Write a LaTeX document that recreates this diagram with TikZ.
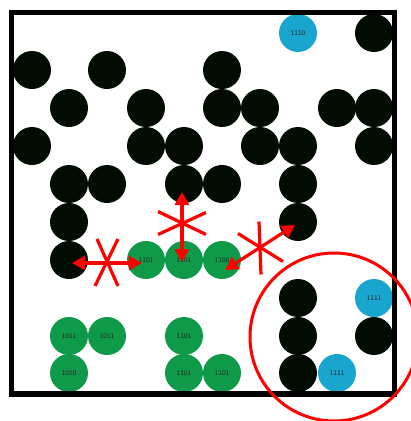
\documentclass[tikz,border=0pt]{standalone}
\usetikzlibrary{arrows.meta}
\definecolor{dotblack}{RGB}{2,12,2}
\definecolor{dotgreen}{RGB}{14,154,72}
\definecolor{dotcyan}{RGB}{24,166,206}
\begin{document}
\begin{tikzpicture}[x=1pt,y=-1pt,
  dot/.style={circle,minimum size=38pt,inner sep=0pt,font=\fontsize{7}{8}\selectfont\sffamily,text=black!85},
  bk/.style={dot,fill=dotblack},
  gr/.style={dot,fill=dotgreen},
  cy/.style={dot,fill=dotcyan},
  redarrow/.style={draw=red,line width=3.2pt,{Triangle[length=13pt,width=14pt]}-{Triangle[length=13pt,width=14pt]}},
  xmark/.style={draw=red,line width=3.2pt},
  frame/.style={draw=black,line width=5.5pt}]
\useasboundingbox (0,0) rectangle (411,421);
% row 1
\node[cy] (c1) at (298,33) {1110};
\node[bk] (k1a) at (374,33) {};
% row 2
\node[bk] (k2a) at (32,70) {};
\node[bk] (k2b) at (107,70) {};
\node[bk] (k2c) at (222,70) {};
% row 3
\node[bk] (k3a) at (69,108) {};
\node[bk] (k3b) at (146,108) {};
\node[bk] (k3c) at (222,108) {};
\node[bk] (k3d) at (260,108) {};
\node[bk] (k3e) at (337,108) {};
\node[bk] (k3f) at (374,108) {};
% row 4
\node[bk] (k4a) at (32,146) {};
\node[bk] (k4b) at (146,146) {};
\node[bk] (k4c) at (184,146) {};
\node[bk] (k4d) at (260,146) {};
\node[bk] (k4e) at (298,146) {};
\node[bk] (k4f) at (374,146) {};
% row 5
\node[bk] (k5a) at (69,184) {};
\node[bk] (k5b) at (107,184) {};
\node[bk] (k5c) at (184,184) {};
\node[bk] (k5d) at (222,184) {};
\node[bk] (k5e) at (298,184) {};
% row 6
\node[bk] (k6a) at (69,222) {};
\node[bk] (k6b) at (298,222) {};
% row 7
\node[bk] (k7a) at (69,260) {};
\node[gr] (g7a) at (146,260) {1101};
\node[gr] (g7b) at (184,260) {1101};
\node[gr] (g7c) at (222,260) {1100};
% row 8
\node[bk] (k8a) at (298,298) {};
\node[cy] (c8) at (374,298) {1111};
% row 9
\node[gr] (g9a) at (69,336) {1011};
\node[gr] (g9b) at (107,336) {1011};
\node[gr] (g9c) at (184,336) {1101};
\node[bk] (k9a) at (298,336) {};
\node[bk] (k9b) at (374,336) {};
% row 10
\node[gr] (g10a) at (69,373) {1010};
\node[gr] (g10b) at (184,373) {1101};
\node[gr] (g10c) at (222,373) {1101};
\node[bk] (k10a) at (298,373) {};
\node[cy] (c10) at (337,373) {1111};
% frame
\draw[frame] (11.5,12.5) rectangle (394.5,394);
% arrows
\draw[redarrow] ([shift={(3,3)}]k7a.center) -- ([shift={(-4,3)}]g7a.center)
  coordinate[pos=.5] (m1);
\draw[redarrow] ([shift={(-2,8)}]k5c.center) -- ([shift={(-2,2)}]g7b.center)
  coordinate[pos=.45] (m2);
\draw[redarrow] ([shift={(3,10)}]g7c.center) -- ([shift={(-3,3)}]k6b.center)
  coordinate[pos=.5] (m3);
% crosses
\draw[xmark] ([shift={(-10,-24)}]m1) -- ([shift={(11,23)}]m1);
\draw[xmark] ([shift={(11,-24)}]m1) -- ([shift={(-12,23)}]m1);
\draw[xmark] ([shift={(-24,-12)}]m2) -- ([shift={(24,11)}]m2);
\draw[xmark] ([shift={(-24,11)}]m2) -- ([shift={(24,-11)}]m2);
\draw[xmark] ([shift={(-1,-26)}]m3) -- ([shift={(1,27)}]m3);
\draw[xmark] ([shift={(-22,-14)}]m3) -- ([shift={(23,14)}]m3);
% red ring
\coordinate (ringc) at (334,337);
\draw[red,line width=3pt] (ringc) circle[radius=84];
\end{tikzpicture}
\end{document}
